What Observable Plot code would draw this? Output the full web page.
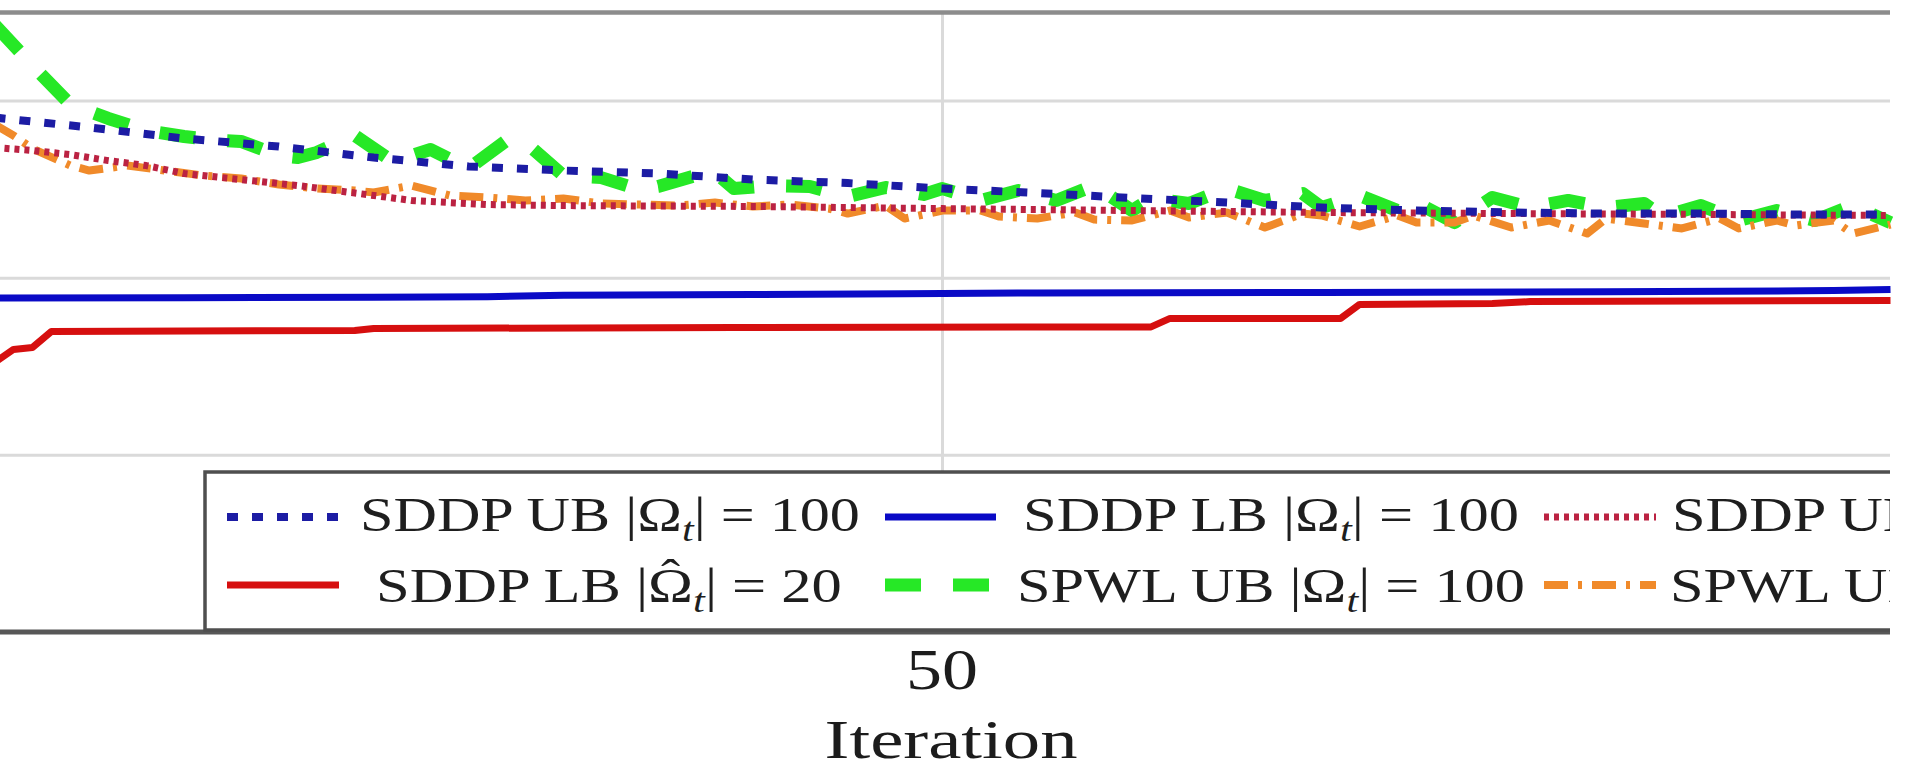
<!DOCTYPE html>
<html>
<head>
<meta charset="utf-8">
<script src="https://cdn.jsdelivr.net/npm/d3@7"></script>
<script src="https://cdn.jsdelivr.net/npm/@observablehq/plot@0.6"></script>
<style>
html, body { margin: 0; padding: 0; background: #fff; }
#chart svg { display: block; }
</style>
</head>
<body>
<div id="chart"></div>
<script>
// ---------------- data ----------------
const xTicks = [50];
const xLabel = "Iteration";
const gridY = [100, 200, 300];
const gridX = [50];

// SDDP UB |Omega_t| = 100 (blue dotted)
const iterSddpUB100 = [0,5,10,15,20,25,30,35,40,45,50,55,60,65,70,75,80,85,90,95,100];
const sddpUB100 = [290.7,285.1,278.9,274.3,268.1,263.1,260.8,259.1,255.7,253.7,250.6,248.1,245.3,242.7,239.9,238.2,237.1,236.5,236.5,236.0,236.0];

// SDDP LB |Omega_t| = 100 (blue solid)
const iterSddpLB100 = [0,10,20,26,30,40,48,55,70,85,97,100];
const sddpLB100 = [188.8,189.0,189.3,189.6,190.4,190.8,191.2,191.7,192.0,192.3,193.0,193.6];

// SDDP UB |Omega-hat_t| = 20 (red dotted)
const iterSddpUB20 = [0,2,4,6,8,10,12,14,16,18,20,22,24,26,30,40,50,60,70,80,90,100];
const sddpUB20 = [273.8,272.1,269.8,266.4,263.6,259.1,256.8,254.6,252.3,249.5,246.7,243.9,242.7,241.6,241.0,240.5,239.3,238.2,237.1,236.5,236.0,235.4];

// SDDP LB |Omega-hat_t| = 20 (red solid)
const iterSddpLB20 = [0,1,2,3,19,20,39,61,62,71,72,79,81,100];
const sddpLB20 = [152.4,159.8,160.9,169.9,170.5,171.6,172.2,172.5,177.3,177.3,185.2,185.7,186.8,187.4];

// SPWL UB |Omega_t| = 100 (green dashed)
const iterSpwlUB100 = [0,2,4,6,8,10,12,13,15,16,17,19,21,23,25,27,28,30,32,34,35,37,38,39,41,43,45,47,49,50,52,54,56,58,60,61,63,65,67,69,70,72,74,75,77,79,81,83,85,87,88,90,92,94,96,98,100];
const spwlUB100 = [343.2,320.1,298.1,290.2,283.4,280.0,277.7,277.2,269.3,268.1,271.0,280.6,265.9,272.7,261.9,277.7,276.6,258.0,256.8,250.1,251.8,258.0,259.7,250.6,252.3,251.8,246.1,251.2,247.3,250.6,243.9,249.5,243.9,252.3,238.2,245.0,242.2,250.6,243.9,247.8,239.9,246.7,238.2,242.7,231.4,245.6,239.9,243.9,239.9,242.2,234.8,241.0,232.6,238.2,232.6,241.0,231.4];

// SPWL UB |Omega-hat_t| = 20 (orange dash-dot)
const iterSpwlUB20 = [0,1,2,4,5,7,9,11,13,15,17,19,20,22,24,26,28,30,32,34,36,38,40,42,44,45,47,48,50,52,53,55,57,58,60,62,63,65,67,69,70,72,74,75,77,78,80,82,84,85,87,89,91,92,94,95,97,98,100];
const spwlUB20 = [286.8,280.6,273.2,263.6,260.8,263.6,260.8,258.0,256.3,252.9,250.6,249.5,248.4,252.3,246.7,245.6,243.9,245.0,242.2,241.6,241.0,242.7,240.5,241.6,239.3,236.5,241.0,233.7,238.2,238.2,234.8,233.7,237.1,233.1,232.6,238.2,234.3,237.1,228.6,236.5,235.4,229.2,235.4,231.4,231.4,235.4,228.6,232.6,225.2,233.7,230.9,228.1,233.7,228.1,232.6,229.8,232.6,225.2,230.3];

// legend labels
const legendKeys   = ["ub100", "lb100", "ub20", "lb20", "spwl100", "spwl20"];
const legendNames  = ["SDDP UB", "SDDP LB", "SDDP UB", "SDDP LB", "SPWL UB", "SPWL UB"];
const legendHat    = [false, false, true, true, false, true];
const legendN      = ["100", "100", "20", "20", "100", "20"];

// ---------------- styles ----------------
const styles = {
  ub100:   {stroke: "#1c1ca4", strokeWidth: 8,  strokeDasharray: "11,14"},
  lb100:   {stroke: "#0a0ac6", strokeWidth: 7},
  ub20:    {stroke: "#bb2242", strokeWidth: 7,  strokeDasharray: "5,5"},
  lb20:    {stroke: "#d60f0f", strokeWidth: 7},
  spwl100: {stroke: "#26e826", strokeWidth: 13, strokeDasharray: "36,32"},
  spwl20:  {stroke: "#f08a2a", strokeWidth: 8,  strokeDasharray: "24,10,4,10"}
};
const FONT = "'Liberation Serif', 'Times New Roman', serif";

function lineMark(iters, vals, key) {
  const s = styles[key];
  return Plot.line(d3.zip(iters, vals), {
    x: d => d[0], y: d => d[1],
    stroke: s.stroke, strokeWidth: s.strokeWidth,
    strokeDasharray: s.strokeDasharray || null,
    strokeLinecap: "butt", strokeLinejoin: "round", curve: "linear"
  });
}

const W = 1905, H = 767;
const chart = Plot.plot({
  width: W, height: H,
  marginTop: 12, marginBottom: 135, marginLeft: 0, marginRight: 15,
  x: {domain: [0, 100], range: [-6, 1890]},
  y: {domain: [0, 350], range: [632, 12], axis: null},
  style: {background: "white", color: "#1c1c1c", fontFamily: FONT, overflow: "visible"},
  marks: [
    Plot.ruleY(gridY, {stroke: "#dadada", strokeWidth: 3}),
    Plot.ruleX(gridX, {stroke: "#dadada", strokeWidth: 3}),
    Plot.ruleY([350], {stroke: "#8c8c8c", strokeWidth: 4.5}),
    lineMark(iterSpwlUB100, spwlUB100, "spwl100"),
    lineMark(iterSpwlUB20, spwlUB20, "spwl20"),
    lineMark(iterSddpUB20, sddpUB20, "ub20"),
    lineMark(iterSddpUB100, sddpUB100, "ub100"),
    lineMark(iterSddpLB100, sddpLB100, "lb100"),
    lineMark(iterSddpLB20, sddpLB20, "lb20"),
    Plot.axisX({ticks: xTicks, tickSize: 0, tickPadding: 16, fontSize: 58,
                tickFormat: d => String(d), label: xLabel, labelAnchor: "center",
                labelArrow: "none", labelOffset: 120})
  ]
});
document.getElementById("chart").append(chart);

const svg = d3.select(chart);
const xScale = chart.scale("x");

// the reference text is horizontally stretched
function placeText(textEl, cx, baseline, fontSize, targetWidth, anchor) {
  const t = d3.select(textEl);
  t.attr("x", null).attr("y", null).attr("dx", null).attr("dy", null)
   .attr("font-size", fontSize).attr("text-anchor", anchor || "middle").attr("transform", null);
  const w = textEl.getComputedTextLength();
  const s = targetWidth / w;
  t.attr("transform", `translate(${cx},${baseline}) scale(${s},1)`);
}

svg.selectAll('g[aria-label="x-axis tick label"]').attr("transform", null);
svg.selectAll('g[aria-label="x-axis tick label"] text').each(function() {
  placeText(this, xScale.apply(50), 689, 58, 72, "middle");
});
svg.selectAll('g[aria-label="x-axis label"]').attr("transform", null);
svg.selectAll('g[aria-label="x-axis label"] text').each(function() {
  placeText(this, 951, 758, 54, 253, "middle");
});

svg.append("line").attr("x1", 0).attr("x2", 1890).attr("y1", 632).attr("y2", 632)
  .attr("stroke", "#575757").attr("stroke-width", 5);

// ---------------- legend ----------------
const defs = svg.append("defs");
defs.append("clipPath").attr("id", "legclip").append("rect")
  .attr("x", 0).attr("y", 0).attr("width", 1890).attr("height", H);
const L = svg.append("g").attr("clip-path", "url(#legclip)").attr("text-anchor", "start");
L.append("rect").attr("x", 205).attr("y", 472).attr("width", 1800).attr("height", 158)
  .attr("fill", "white").attr("stroke", "#4f4f4f").attr("stroke-width", 3.5);

const legendCol = [0, 1, 2, 0, 1, 2];
const legendRow = [0, 0, 0, 1, 1, 1];
const sampleX = [[227, 339], [885, 996], [1544, 1656]];
const textX = [[360, 1023, 1672], [376, 1017, 1670]];
const textW = [[500, 496, null], [466, 508, null]];
const sampleY = [517, 585];
const baseY = [531, 602];
const FS = 49;

const scales = [];
const labelEls = [];
legendKeys.forEach((key, i) => {
  const r = legendRow[i], c = legendCol[i];
  const s = styles[key];
  L.append("line")
    .attr("x1", sampleX[c][0]).attr("x2", sampleX[c][1])
    .attr("y1", sampleY[r]).attr("y2", sampleY[r])
    .attr("stroke", s.stroke).attr("stroke-width", s.strokeWidth)
    .attr("stroke-dasharray", s.strokeDasharray || null)
    .attr("stroke-linecap", "butt");
  const g = L.append("g");
  const t = g.append("text").attr("font-size", FS).attr("fill", "#1e1e1e")
    .attr("text-anchor", "start").attr("font-family", FONT);
  const pre = legendNames[i] + " |";
  t.append("tspan").text(pre);
  t.append("tspan").text("\u03A9");
  t.append("tspan").attr("font-style", "italic").attr("font-size", FS * 0.7).attr("dy", FS * 0.2).text("t");
  t.append("tspan").attr("dy", -FS * 0.2).text("| = " + legendN[i]);
  if (legendHat[i]) {
    const node = t.node();
    const idx = pre.length;
    const x0 = node.getStartPositionOfChar(idx).x;
    const x1 = node.getEndPositionOfChar(idx).x;
    g.append("text").attr("font-size", FS * 0.95).attr("fill", "#1e1e1e")
      .attr("font-family", FONT).attr("text-anchor", "middle")
      .attr("x", (x0 + x1) / 2).attr("y", -FS * 0.2).text("\u02C6");
  }
  const w = t.node().getComputedTextLength();
  const target = textW[r][c];
  const sc = target ? target / w : null;
  if (sc) scales.push(sc);
  labelEls.push({g, r, c, sc});
});
const meanScale = d3.mean(scales);
labelEls.forEach(({g, r, c, sc}) => {
  g.attr("transform", `translate(${textX[r][c]},${baseY[r]}) scale(${sc || meanScale},1)`);
});
</script>
</body>
</html>
